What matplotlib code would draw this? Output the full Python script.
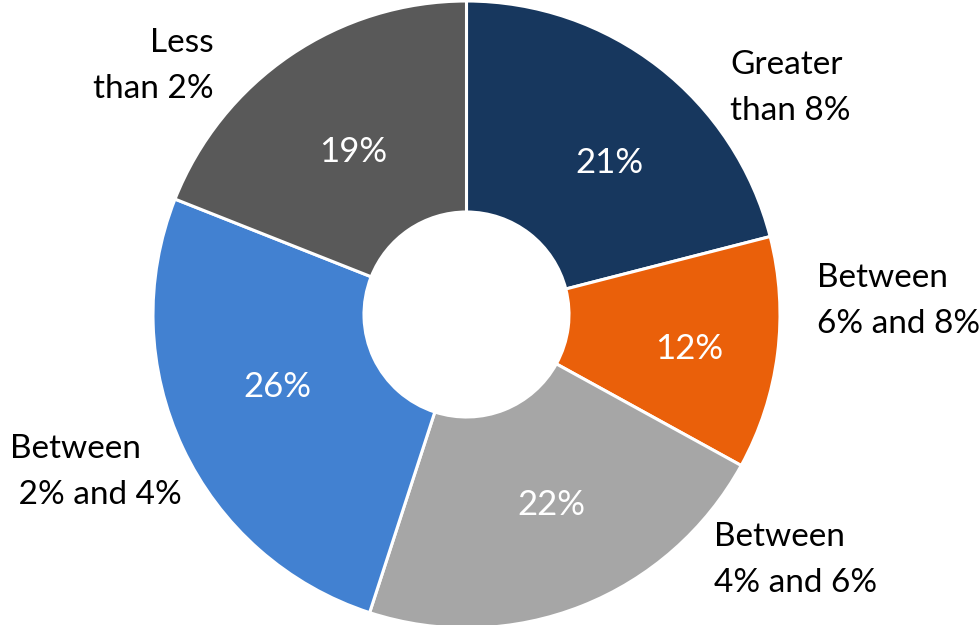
import matplotlib
matplotlib.use("Agg")
import matplotlib.pyplot as plt

plt.rcParams["font.family"] = ["Lato", "DejaVu Sans"]

# share of holdings by yield bucket, clockwise from 12 o'clock
categories = ["Greater\nthan 8%", "Between\n6% and 8%", "Between\n4% and 6%",
              "Between\n 2% and 4%", "Less\nthan 2%"]
shares = [21, 12, 22, 26, 19]
colors = ["#17375E", "#EA600A", "#A6A6A6", "#4281D1", "#595959"]

# category label anchors (left/right edge, last baseline) in figure pixels, y up
label_pos = [(730, 505), (817, 292), (714, 33), (10, 121), (214, 527)]
label_ha = ["left", "left", "left", "left", "right"]
# percentage label centres, same frame
pct_pos = [(609, 465), (689, 279), (551, 123), (277, 241), (353, 476)]

W, H = 980, 625
fig = plt.figure(figsize=(W / 100, H / 100), dpi=100)
ax = fig.add_axes([0, 0, 1, 1])

outer_r = 313.5
inner_r = 102.5
wedges, texts, autotexts = ax.pie(
    shares,
    colors=colors,
    startangle=90,
    counterclock=False,
    center=(466.5, 310.5),
    radius=outer_r,
    autopct=lambda p: f"{p:.0f}%",
    pctdistance=0.665,
    wedgeprops=dict(width=outer_r - inner_r, edgecolor="white", linewidth=2.2),
    textprops=dict(color="white", fontsize=25),
)
for t, pos in zip(autotexts, pct_pos):
    t.set_position(pos)
    t.set_verticalalignment("center_baseline")

for (x, y), ha, name in zip(label_pos, label_ha, categories):
    ax.text(x, y, name, ha=ha, va="baseline", fontsize=24, color="black",
            linespacing=1.65)

ax.set_xlim(0, W)
ax.set_ylim(0, H)
ax.set_aspect("equal")
ax.axis("off")

fig.savefig("out.png", dpi=100, facecolor="white")
